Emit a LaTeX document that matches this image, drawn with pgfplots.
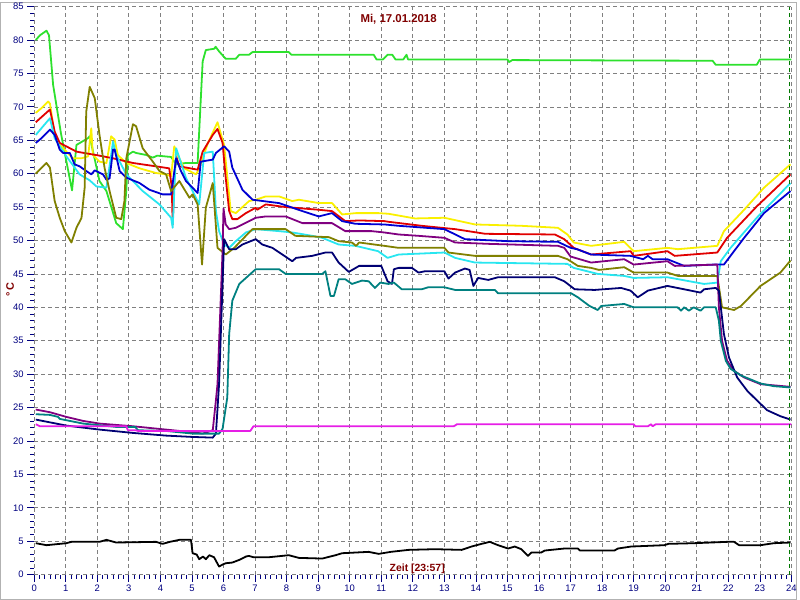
\documentclass[border=0pt]{standalone}
\usepackage{fontspec}
\setmainfont{Liberation Sans}
\usepackage{pgfplots}
\pgfplotsset{compat=1.18}

\definecolor{cgreen}{RGB}{45,225,45}
\definecolor{cyellow}{RGB}{250,240,0}
\definecolor{cred}{RGB}{225,0,0}
\definecolor{ccyan}{RGB}{40,230,240}
\definecolor{cblue}{RGB}{0,0,210}
\definecolor{colive}{RGB}{128,128,0}
\definecolor{cpurple}{RGB}{128,0,128}
\definecolor{cnavy}{RGB}{0,0,115}
\definecolor{cteal}{RGB}{0,128,128}
\definecolor{cmagenta}{RGB}{230,30,230}
\definecolor{darkred}{RGB}{128,0,0}
\definecolor{ticknavy}{RGB}{0,0,128}
\definecolor{cursor}{RGB}{0,120,0}

\begin{document}
\begin{tikzpicture}
\draw[gray!60, line width=1bp] (-33.8bp,-24.8bp) rectangle (765.2bp,574.2bp);
\begin{axis}[
    scale only axis,
    width=760bp, height=570bp,
    xmin=0, xmax=24, ymin=0, ymax=85,
    xtick={0,1,...,24},
    ytick={0,5,...,85},
    minor x tick num=5,
    minor y tick num=4,
    xtick pos=bottom, ytick pos=left,
    tick align=outside,
    major tick length=7bp, minor tick length=4bp,
    tick style={ticknavy, line width=0.8bp},
    axis line style={draw=none},
    grid=major,
    major grid style={gray, dash pattern=on 4bp off 3bp, line width=0.7bp},
    ticklabel style={font=\fontsize{9.5}{11}\selectfont, text=ticknavy},
    /pgf/number format/assume math mode=true,
    clip=false,
    every axis plot/.append style={line width=1.8bp, no markers, line join=round},
]
% green
\addplot[cgreen] coordinates {
(0.05,80.0)(0.18,80.7)(0.39,81.4)(0.47,80.7)(0.6,73.3)(0.85,66)(1.20,57.5)(1.34,64.3)(1.70,65.3)(1.76,65.6)
(2.07,58.9)(2.29,57.4)(2.6,52.6)(2.81,51.7)(2.92,57.4)(2.97,62.8)(3.13,63.3)(3.23,63.1)(3.55,62.8)(3.76,62.4)
(3.9,62.7)(4.34,62.5)(4.5,61.4)(4.81,61.6)(5.18,61.6)(5.34,76.8)(5.44,78.5)(5.71,78.7)(5.75,79.0)(5.86,78.3)
(6.07,77.2)(6.39,77.2)(6.5,77.8)(6.81,77.8)(6.92,78.2)(8.07,78.2)(8.15,77.8)(10.76,77.8)(10.85,77.1)(11.05,77.1)
(11.2,77.8)(11.35,77.8)(11.45,77.1)(11.7,77.1)(11.8,77.8)(11.85,77.1)(15.0,77.1)(15.05,76.7)(15.15,77.0)
(21.5,76.9)(21.6,76.3)(22.9,76.3)(23.0,77.1)(24,77.1)
};
% yellow
\addplot[cyellow] coordinates {
(0.05,69.1)(0.23,69.8)(0.44,70.8)(0.5,70.5)(0.65,65.8)(0.76,64.6)(1.02,63.3)(1.23,62.3)(1.5,62.3)(1.71,62.6)
(1.81,66.8)(1.86,62.8)(2.07,61.8)(2.29,61.6)(2.44,65.6)(2.55,65.1)(2.65,62.8)(2.92,61.6)(3.34,60.8)(3.86,60.1)
(4.18,59.9)(4.34,59.6)(4.44,64.1)(4.55,62.8)(4.76,60.8)(5.13,59.9)(5.23,60.8)(5.5,64.5)(5.81,67.7)(6.02,64.3)
(6.23,54.4)(6.39,54.1)(6.81,55.9)(7.02,56.1)(7.34,56.6)(7.76,56.6)(8.18,55.9)(8.39,56.1)(9.02,55.6)(9.44,55.6)
(9.76,53.9)(10.2,54.1)(10.9,54.1)(11.23,54.0)(12.07,53.3)(13.0,53.4)(13.97,52.4)(15.44,52.2)(16.6,51.9)(16.9,50.9)
(17.1,49.7)(17.65,49.2)(18.7,49.8)(19.0,48.4)(20.07,48.9)(20.4,48.7)(21.65,49.2)(21.86,51.4)(22.5,54.6)(23.13,57.9)(23.97,61.4)
};
% red
\addplot[cred] coordinates {
(0.05,67.7)(0.5,69.6)(0.65,66.3)(0.81,64.6)(1.34,63.3)(2.07,62.7)(2.5,62.3)(3.13,61.6)(3.86,61.1)(4.28,60.8)
(4.36,58)(4.39,52.4)(4.45,60)(4.5,62.6)(4.6,61.1)(5.18,60.6)(5.34,63.3)(5.66,65.8)(5.81,66.7)(5.97,64.6)
(6.07,59.4)(6.18,54.4)(6.28,53.2)(6.44,53.2)(6.71,54.1)(7.02,54.9)(7.07,54.6)(7.34,55.4)(7.97,55.0)(9.02,54.6)
(9.44,54.4)(9.86,52.9)(10.3,53.0)(11.1,52.9)(11.23,52.8)(12.28,52.2)(13.34,51.7)(14.3,51.0)(16.5,50.9)(16.8,50.2)
(17.1,48.9)(17.65,47.9)(18.9,48.4)(19.0,47.7)(20.07,48.4)(20.3,47.7)(21.65,48.2)(21.96,50.4)(22.9,55.1)(23.97,59.9)
};
% cyan
\addplot[ccyan] coordinates {
(0.05,65.8)(0.5,68.3)(0.65,65.3)(1.02,62.6)(1.44,59.9)(1.76,59.0)(1.97,58.1)(2.29,57.9)(2.5,64.8)(2.6,62.8)
(2.92,59.9)(3.44,57.4)(3.97,55.4)(4.34,53.4)(4.39,51.9)(4.5,63.8)(4.81,59.4)(5.23,55.4)(5.39,63.1)(5.66,63.3)
(5.76,54.4)(5.86,51.4)(6.02,49.4)(6.18,48.9)(6.39,49.9)(6.71,51.2)(7.02,51.7)(7.76,51.4)(8.18,51.2)(8.81,50.7)
(9.13,50.4)(9.65,49.4)(10.18,49.2)(10.9,48.4)(11.2,47.4)(11.55,47.9)(13.0,48.2)(13.34,47.4)(13.97,46.7)(16.9,46.5)
(17.1,45.9)(17.86,45.0)(18.7,44.7)(19.0,44.4)(20.07,44.5)(21.23,43.5)(21.65,43.7)(21.76,46.9)(22.07,48.9)(22.9,53.4)(23.97,58.6)
};
% blue
\addplot[cblue] coordinates {
(0.05,64.6)(0.23,65.3)(0.5,66.6)(0.65,65.8)(0.81,63.6)(0.92,63.1)(1.13,63.1)(1.28,61.4)(1.44,61.1)(1.65,60.4)
(1.81,59.9)(1.92,60.5)(2.18,59.9)(2.29,59.1)(2.39,59.3)(2.5,63.6)(2.55,63.6)(2.71,60.4)(2.92,59.4)(3.34,58.6)
(3.65,57.6)(4.07,56.9)(4.34,56.9)(4.5,62.3)(4.65,60.4)(4.81,58.9)(5.02,57.9)(5.18,57.1)(5.28,61.8)(5.66,62.1)
(5.76,63.1)(6.02,64.1)(6.18,63.3)(6.28,60.9)(6.6,57.6)(6.92,56.1)(7.76,55.6)(8.5,54.4)(9.02,53.6)(9.44,54.1)
(9.76,52.9)(10.18,52.5)(11.1,52.4)(11.55,52.2)(13.0,51.7)(13.65,50.2)(15.02,49.9)(16.6,49.8)(17.0,48.9)(17.2,48.7)
(17.65,47.9)(18.9,47.7)(19.3,47.2)(19.45,47.7)(19.6,47.2)(20.07,47.2)(20.6,46.2)(21.55,46.4)(21.86,46.4)(22.5,50.4)(23.13,54.1)(23.97,57.4)
};
% olive
\addplot[colive] coordinates {
(0.05,60.0)(0.39,61.6)(0.5,60.9)(0.65,55.9)(0.81,53.4)(0.97,51.4)(1.18,49.7)(1.34,51.9)(1.5,53.4)(1.6,57.9)
(1.65,69.3)(1.76,73.0)(1.92,71.3)(2.07,65.8)(2.23,60.9)(2.39,57.4)(2.6,53.4)(2.76,53.2)(2.86,55.9)(2.92,62.3)
(3.13,67.4)(3.23,67.1)(3.44,63.8)(3.76,61.8)(3.97,60.4)(4.18,59.9)(4.34,57.4)(4.6,58.9)(4.92,56.4)(5.02,56.9)
(5.18,55.4)(5.32,46.4)(5.44,54.9)(5.66,58.6)(5.81,48.9)(6.07,47.9)(6.34,48.9)(6.71,50.7)(6.92,51.7)(7.97,51.7)
(8.28,50.7)(9.34,50.5)(9.65,49.9)(10.07,49.7)(10.2,49.2)(10.3,49.7)(11.1,49.2)(11.55,48.9)(13.0,48.9)(13.13,48.2)
(13.97,47.7)(16.6,47.7)(16.9,47.2)(17.23,46.2)(17.65,45.9)(17.9,45.6)(18.7,46.0)(19.0,45.2)(20.07,45.2)(20.4,44.7)
(21.65,44.7)(21.8,40.0)(22.18,39.6)(22.4,40.2)(23.02,43.2)(23.65,45.2)(23.97,47.0)
};
% purple
\addplot[cpurple] coordinates {
(0.05,24.7)(0.5,24.3)(1.02,23.6)(1.55,23.0)(2.07,22.6)(3.13,22.2)(4.18,21.7)(5.02,21.3)(5.34,21.1)(5.66,21.6)
(5.76,26.1)(5.81,28.5)(5.97,48.4)(6.0,54.8)(6.07,52.4)(6.18,51.7)(6.39,51.9)(6.81,52.9)(7.02,53.4)(7.34,53.6)
(7.97,53.6)(8.5,52.6)(9.44,52.6)(9.86,51.4)(10.7,51.4)(11.1,51.2)(11.55,50.9)(12.18,50.7)(13.0,50.4)(13.34,49.7)
(14.39,49.5)(16.6,49.2)(16.8,48.9)(17.0,47.6)(17.65,46.7)(18.7,47.2)(19.0,46.4)(20.07,46.9)(20.3,46.2)(21.65,46.4)
(21.7,40.0)(21.8,35.0)(21.96,32.0)(22.18,30.5)(22.5,29.5)(23.02,28.5)(23.97,28.1)
};
% navy
\addplot[cnavy] coordinates {
(0.05,23.2)(1.02,22.3)(2.07,21.7)(3.13,21.2)(4.18,20.8)(5.02,20.6)(5.66,20.5)(5.76,21.1)(5.86,28.5)(6.02,50.2)
(6.18,48.7)(6.39,48.7)(6.6,49.4)(7.02,50.2)(7.23,49.4)(7.55,48.9)(8.18,46.9)(8.3,47.4)(8.81,47.7)(9.23,48.2)
(9.44,48.2)(9.65,46.7)(9.97,45.3)(10.3,46.2)(11.0,46.2)(11.2,43.9)(11.34,43.5)(11.4,45.7)(11.55,45.9)(11.97,45.9)
(12.18,45.2)(12.39,45.4)(13.0,45.4)(13.13,44.3)(13.34,45.2)(13.65,45.8)(13.8,45.6)(13.92,43.2)(14.07,44.4)(14.39,44.1)
(14.7,44.5)(16.5,44.5)(16.8,43.9)(17.13,42.7)(17.76,42.6)(18.6,42.9)(18.9,42.5)(19.13,41.5)(19.45,42.5)(20.07,43.2)
(20.6,42.7)(21.12,42.2)(21.23,42.7)(21.6,42.9)(21.7,42.5)(21.86,36.0)(22.02,32.5)(22.28,29.5)(22.6,27.5)(22.9,26.1)
(23.23,24.6)(23.65,23.7)(23.97,23.2)
};
% teal
\addplot[cteal] coordinates {
(0.05,24.0)(0.5,23.9)(0.76,23.6)(0.81,23.3)(1.55,22.6)(2.6,22.1)(3.2,22.1)(3.29,21.6)(4.18,21.5)(5.02,21.1)
(5.86,21.1)(5.97,21.8)(6.12,26.5)(6.18,36.0)(6.28,41.0)(6.5,43.5)(7.02,45.7)(7.76,45.7)(7.97,45.0)(9.13,45.0)
(9.23,45.4)(9.39,41.7)(9.5,41.7)(9.65,44.2)(9.86,44.2)(10.07,43.5)(10.39,44.0)(10.6,43.9)(10.8,42.9)(10.97,43.7)
(11.23,43.5)(11.4,43.7)(11.65,42.7)(12.28,42.7)(12.49,43.0)(13.0,43.0)(13.34,42.6)(14.6,42.6)(14.7,42.1)(17.02,42.1)
(17.23,41.5)(17.6,40.2)(17.86,39.6)(17.97,40.2)(18.7,40.5)(19.0,40.0)(20.39,40.0)(20.5,39.5)(20.6,40.0)(20.75,39.5)
(20.9,40.0)(21.12,39.5)(21.23,40.0)(21.6,40.0)(21.7,38.0)(21.76,35.0)(21.92,32.0)(22.07,30.8)(22.4,29.8)(23.02,28.6)
(23.44,28.2)(23.97,28.0)
};
% magenta
\addplot[cmagenta] coordinates {
(0.05,22.5)(0.18,22.2)(2.92,22.2)(2.97,21.6)(3.23,21.6)(3.29,21.5)(6.85,21.5)(6.95,22.2)(13.3,22.2)(13.4,22.5)
(19.0,22.5)(19.05,22.2)(19.45,22.2)(19.55,22.5)(19.6,22.2)(19.7,22.5)(24,22.5)
};
% black
\addplot[black] coordinates {
(0.05,4.7)(0.39,4.4)(1.02,4.7)(1.18,4.9)(2.07,4.9)(2.29,5.2)(2.6,4.8)(3.86,4.9)(4.07,4.6)(4.3,4.9)
(4.6,5.2)(4.97,5.2)(5.02,3.2)(5.15,3.0)(5.23,2.3)(5.35,2.7)(5.44,2.3)(5.55,2.9)(5.7,2.6)(5.86,1.2)
(5.97,1.5)(6.07,1.7)(6.28,1.8)(6.5,2.2)(6.71,2.7)(6.8,2.8)(6.95,2.6)(7.44,2.6)(8.07,2.9)(8.39,2.5)
(9.13,2.4)(9.55,2.9)(9.76,3.2)(10.6,3.4)(10.92,3.1)(11.3,3.4)(11.87,3.7)(12.7,3.8)(13.55,3.7)(13.86,4.2)
(14.18,4.6)(14.44,4.9)(14.7,4.4)(15.02,3.9)(15.23,4.2)(15.44,3.8)(15.65,2.8)(15.76,3.3)(16.07,3.3)(16.18,3.6)
(16.8,3.9)(17.23,3.9)(17.3,3.6)(18.39,3.6)(18.5,3.9)(18.92,4.2)(19.97,4.4)(20.1,4.6)(20.92,4.7)(21.97,4.9)
(22.18,4.9)(22.34,4.4)(23.02,4.4)(23.44,4.7)(23.97,4.8)
};
\draw[cursor, dash pattern=on 4bp off 3bp, line width=0.8bp] (axis cs:23.95,0) -- (axis cs:23.95,85);
\node[text=darkred, font=\fontsize{11.5}{13}\selectfont\bfseries] at (axis cs:11.55,83.1) {Mi, 17.01.2018};
\node[text=darkred, font=\fontsize{10.5}{12}\selectfont\bfseries] at (axis cs:12.14,0.85) {Zeit [23:57]};
\node[text=darkred, font=\fontsize{11}{12}\selectfont\bfseries, rotate=90] at (axis cs:-0.76,42.6) {°\,C};
\end{axis}
\end{tikzpicture}
\end{document}
